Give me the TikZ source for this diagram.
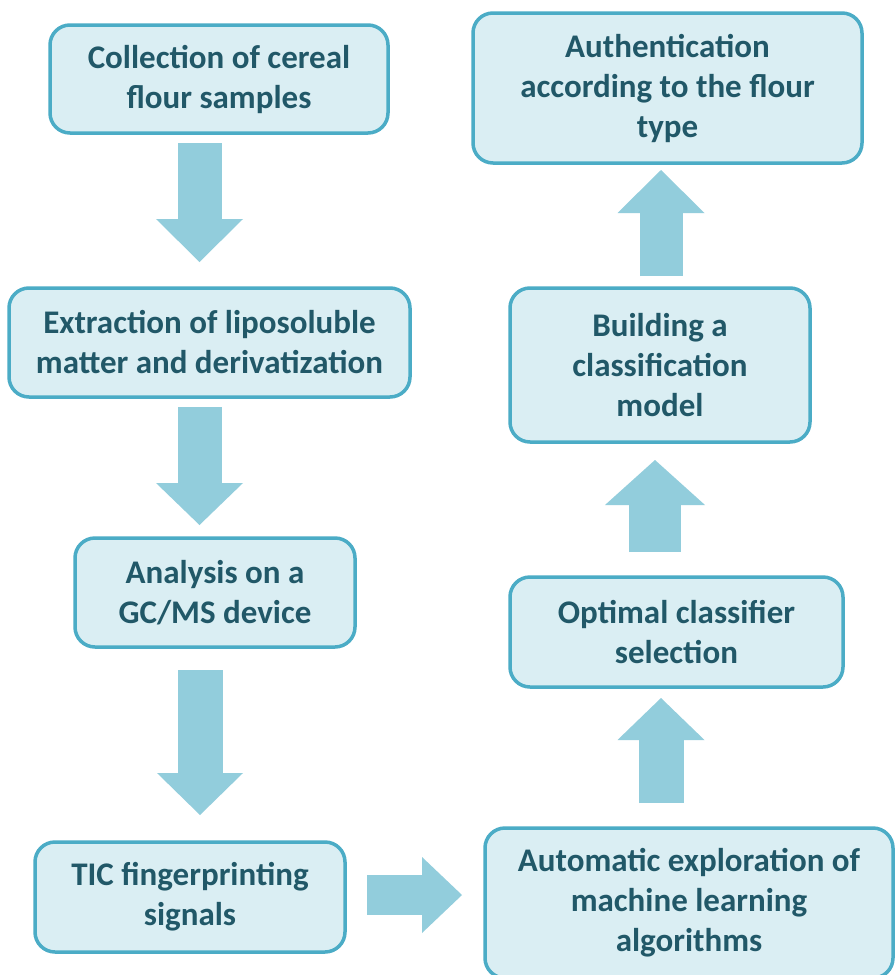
\documentclass[tikz,border=0pt]{standalone}
\usepackage{fontspec}
\setmainfont{Carlito}
\usetikzlibrary{arrows.meta}
\definecolor{boxfill}{HTML}{DAEEF3}
\definecolor{boxline}{HTML}{4BACC6}
\definecolor{arrfill}{HTML}{92CDDC}
\definecolor{txt}{HTML}{215868}
\tikzset{
  stepbox/.style={draw=boxline, fill=boxfill, line width=3.5pt, rounded corners=20pt,
    outer sep=0pt, inner sep=0pt, align=center, text=txt,
    font=\fontsize{33}{40}\selectfont\bfseries},
  blk/.style={draw=arrfill, line cap=butt},
}
\begin{document}
\begin{tikzpicture}[x=1pt,y=-1pt]
\useasboundingbox (0,0) rectangle (895,975);
\fill[white] (0,0) rectangle (895,975);
\clip (0,0) rectangle (895,975);
% boxes
\node[stepbox, minimum width=338pt, minimum height=108pt] (b1) at (219,79) {Collection of cereal\\flour samples};
\node[stepbox, minimum width=401pt, minimum height=109pt] (b2) at (209.5,342.5) {Extraction of liposoluble\\matter and derivatization};
\node[stepbox, minimum width=280pt, minimum height=109pt] (b3) at (215,592.5) {Analysis on a\\GC/MS device};
\node[stepbox, minimum width=310pt, minimum height=110pt] (b4) at (190,897) {TIC fingerprinting\\signals};
\node[stepbox, minimum width=408pt, minimum height=150pt] (b5) at (689,903) {Automatic exploration of\\machine learning\\algorithms};
\node[stepbox, minimum width=333pt, minimum height=110pt] (b6) at (676.5,632) {Optimal classifier\\selection};
\node[stepbox, minimum width=300pt, minimum height=154pt] (b7) at (660,365) {Building a\\classification\\model};
\node[stepbox, minimum width=389pt, minimum height=150pt] (b8) at (667.5,88) {Authentication\\according to the flour\\type};
% block arrows
\draw[blk, line width=44pt, -{Triangle[length=43pt,width=87pt,line width=0pt]}]
  ([xshift=-19.5pt,yshift=-10pt]b1.south) -- ([xshift=-10pt,yshift=26pt]b2.north);
\draw[blk, line width=44pt, -{Triangle[length=42pt,width=87pt,line width=0pt]}]
  ([xshift=-10pt,yshift=-10pt]b2.south) -- ([xshift=-15.5pt,yshift=13pt]b3.north);
\draw[blk, line width=45pt, -{Triangle[length=42pt,width=86pt,line width=0pt]}]
  ([xshift=-15pt,yshift=-23pt]b3.south) -- ([xshift=10pt,yshift=27pt]b4.north);
\draw[blk, line width=40pt, -{Triangle[length=40pt,width=76pt,line width=0pt]}]
  ([xshift=22pt,yshift=2pt]b4.east) -- ([xshift=-23pt,yshift=8pt]b5.west);
\draw[blk, line width=45pt, -{Triangle[length=42pt,width=87pt,line width=0pt]}]
  ([xshift=-28pt,yshift=25pt]b5.north) -- ([xshift=-15.5pt,yshift=-11pt]b6.south);
\draw[blk, line width=52pt, -{Triangle[length=45pt,width=100pt,line width=0pt]}]
  ([xshift=-21.5pt,yshift=25pt]b6.north) -- ([xshift=-5pt,yshift=-18pt]b7.south);
\draw[blk, line width=43pt, -{Triangle[length=43pt,width=87pt,line width=0pt]}]
  ([xshift=1pt,yshift=12pt]b7.north) -- ([xshift=-6.5pt,yshift=-7pt]b8.south);
\end{tikzpicture}
\end{document}
